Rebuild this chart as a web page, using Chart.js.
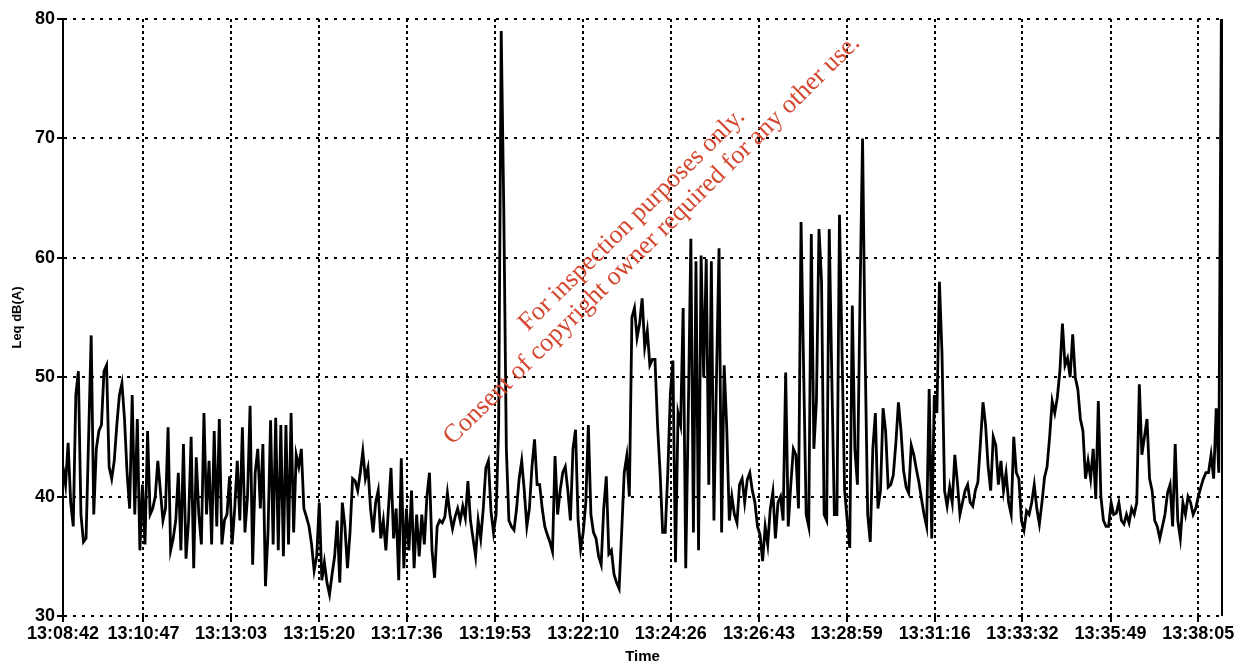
<!DOCTYPE html>
<html>
<head>
<meta charset="utf-8">
<title>Leq dB(A) over time</title>
<script src="https://cdn.jsdelivr.net/npm/chart.js@4.4.1/dist/chart.umd.min.js"></script>
<style>
    html, body { margin: 0; padding: 0; background: #ffffff; }
    #wrap { width: 1237px; height: 666px; }
</style>
</head>
<body>
<div id="wrap"><canvas id="leqChart" width="1237" height="666"></canvas></div>
<script>
"use strict";

// time axis
var START_TIME = '13:08:42';
var SAMPLE_STEP = 3.98;      // seconds between readings
var END_SECONDS = 1800;
var TIME_TICKS = ['13:08:42', '13:10:47', '13:13:03', '13:15:20', '13:17:36', '13:19:53', '13:22:10',
                  '13:24:26', '13:26:43', '13:28:59', '13:31:16', '13:33:32', '13:35:49', '13:38:05'];

// level axis
var Y_MIN = 30;
var Y_MAX = 80;
var Y_STEP = 10;

// Leq readings, dB(A)
var LEQ = [
    42.5, 41, 44.5, 39.5, 37.5, 48.5, 50.5, 38.5, 36.2, 36.5,
    45, 53.5, 38.5, 44, 45.5, 46, 50.5, 51, 42.5, 41.5,
    43, 46, 48.5, 49.5, 46.5, 42, 39, 48.5, 38.5, 46.5,
    35.5, 41, 36, 45.5, 38.5, 39, 40, 43, 40.5, 38,
    39, 45.8, 35.5, 36.5, 38, 42, 35.5, 44.4, 34.8, 38,
    45, 34, 43.3, 38.5, 36, 47, 38.5, 43, 36, 45.5,
    37.5, 46.5, 36, 38, 38.5, 41.7, 36, 39, 43, 38,
    45.8, 37, 40, 47.6, 34.3, 42, 44, 39, 44.4, 32.5,
    37, 46.4, 36, 46.6, 35.5, 46, 35, 46, 36, 47,
    37,
    43.5, 42.5, 44, 39, 38.3, 37.5, 36, 33.8, 35, 39.5,
    33, 34.5, 32.8, 31.8, 33.5, 35, 38, 32.8, 39.5, 37.5,
    34, 37, 41.5, 41.3, 40.5, 42, 43.8, 41.5, 42.4, 39,
    37, 39.5, 40.5, 36.5, 38, 35.5, 39, 42.4, 36.5, 39,
    33, 43.2, 34, 39, 35.5, 40.5, 34, 38.5, 35, 38.5,
    36, 40, 42, 35.5, 33.2, 37.5, 38, 37.8, 38.3, 40.3,
    38.5, 37.3, 38.3, 39, 38, 39.2, 38.2, 41.3, 38, 36.5,
    35, 38, 36.5, 39, 42.4, 43, 38.8, 37, 38.5, 46,
    79, 64, 44, 38, 37.5, 37.2, 39, 41.5, 43, 40.5,
    37.5, 39, 42.5, 44.8, 41, 41, 39, 37.5, 36.8, 36.2,
    35.4, 43.4, 38.5, 40.5, 42, 42.5, 40.5, 38, 44, 45.6,
    38, 35.6, 37, 39.5, 46, 38.5, 37, 36.5, 35, 34.3,
    39, 41.7, 35.2, 35.5, 33.5, 32.8, 32.3, 37, 42, 43.4,
    40, 55, 55.8, 53.3, 54.5, 56.6, 52.5, 53.9, 51, 51.5,
    51.5, 46, 42, 37, 37, 42, 48.6, 51.4, 34.5, 47,
    46, 55.8, 34, 47, 61.6, 37, 59.7, 35.5, 60.2, 50,
    59.9, 41, 59.7, 38, 50, 60.8, 37, 51, 45.8, 38,
    40, 38.5, 37.8, 41, 41.5, 39.5, 41.4, 42, 40.5, 39.5,
    37.5, 36.8, 34.6, 37.5, 36, 39, 40.4, 36.5, 39.5, 40,
    38, 50.4, 37.5, 41, 44, 43.5, 39, 63, 50.7, 38.5,
    37.5, 62, 44, 48, 62.4, 58, 38.5, 38, 62.4, 50,
    38.5, 38.5, 63.6, 52, 40.5, 38, 35.7, 56, 44, 41,
    56.5, 70, 52, 38.5, 36.2, 44, 47, 39, 40.5, 47.4,
    45.5, 40.8, 41, 41.8, 44.5, 47.9, 45.5, 42.2, 40.8, 40.3,
    44.3, 43.5, 42.3, 41.2, 39.8, 38.5, 37.5, 49, 36.5, 48.5,
    47, 58, 52, 40.5, 39.2, 40.8, 39.5, 43.5, 41.2, 38.5,
    39.5, 40.5, 41, 39.5, 39.2, 40.5, 41.2, 44.5, 47.9, 46,
    42.5, 40.5, 45, 44.3, 41, 43, 40.5, 42, 39.5, 38.5,
    45, 42, 41.5, 38, 37.2, 38.8, 38.5, 39.5, 41, 39,
    37.7, 39.5, 41.6, 42.5, 45, 48, 47, 48.3, 50.5, 54.5,
    51, 51.6, 50, 53.6, 50, 49, 46.5, 45.5, 41.5, 43,
    41.5, 44, 39.8, 48, 40, 38, 37.5, 37.5, 39.5, 38.5,
    38.6, 39.5, 38, 37.7, 38.5, 37.8, 39, 38.5, 39.5, 49.4,
    43.5, 45, 46.5, 41.5, 40.5, 38, 37.5, 36.5, 37.5, 38.5,
    40.3, 41, 37.5, 44.4, 38, 36.5, 39.5, 38.5, 40, 39.5,
    38.5, 39, 40, 40.8, 41.5, 42, 42, 43.5, 41.5, 47.4,
    42, 80
];

var WATERMARK = ['For inspection purposes only.',
                 'Consent of copyright owner required for any other use.'];

function toSeconds(t) {
    var p = t.split(':');
    return (+p[0]) * 3600 + (+p[1]) * 60 + (+p[2]);
}

var t0 = toSeconds(START_TIME);
var tickSeconds = TIME_TICKS.map(function (t) { return toSeconds(t) - t0; });
var points = LEQ.map(function (v, i) { return { x: i * SAMPLE_STEP, y: v }; });

var labelFont = { family: '"Liberation Sans", Arial, sans-serif', size: 18, weight: 'bold' };

// solid right edge of the frame
var framePlugin = {
    id: 'frame',
    afterDraw: function (chart) {
        var a = chart.chartArea;
        var ctx = chart.ctx;
        ctx.save();
        ctx.strokeStyle = '#000';
        ctx.lineWidth = 2;
        ctx.beginPath();
        ctx.moveTo(a.right, a.top);
        ctx.lineTo(a.right, a.bottom);
        ctx.stroke();
        ctx.restore();
    }
};

// red stamp across the plot
var stampPlugin = {
    id: 'stamp',
    afterDraw: function (chart) {
        var ctx = chart.ctx;
        var centres = [[632, 220], [652, 240]];
        ctx.save();
        ctx.fillStyle = '#d4472f';
        ctx.font = '26px "Liberation Serif", "Times New Roman", serif';
        ctx.textAlign = 'center';
        ctx.textBaseline = 'middle';
        WATERMARK.forEach(function (line, i) {
            ctx.save();
            ctx.translate(centres[i][0], centres[i][1]);
            ctx.rotate(-44.5 * Math.PI / 180);
            ctx.fillText(line, 0, 0);
            ctx.restore();
        });
        ctx.restore();
    }
};

new Chart(document.getElementById('leqChart'), {
    type: 'line',
    data: {
        datasets: [{
            label: 'Leq dB(A)',
            data: points,
            borderColor: '#000',
            borderWidth: 2.8,
            pointRadius: 0,
            tension: 0,
            fill: false
        }]
    },
    options: {
        responsive: false,
        animation: false,
        layout: { padding: { left: 0, right: 15, top: 19, bottom: 0 } },
        plugins: {
            legend: { display: false },
            tooltip: { enabled: false }
        },
        scales: {
            x: {
                type: 'linear',
                min: 0,
                max: END_SECONDS,
                afterBuildTicks: function (scale) {
                    scale.ticks = tickSeconds.map(function (v) { return { value: v }; });
                },
                afterFit: function (scale) { scale.height = 50; },
                ticks: {
                    autoSkip: false,
                    maxRotation: 0,
                    padding: 1,
                    color: '#000',
                    font: labelFont,
                    callback: function (v) {
                        var i = tickSeconds.indexOf(v);
                        return i >= 0 ? TIME_TICKS[i] : '';
                    }
                },
                grid: {
                    color: '#000',
                    lineWidth: 2,
                    tickLength: 6,
                    tickColor: '#000',
                    tickWidth: 2,
                    tickBorderDash: []
                },
                border: { display: false, dash: [3, 3] },
                title: {
                    display: true,
                    text: 'Time',
                    color: '#000',
                    padding: 0,
                    font: { family: '"Liberation Sans", Arial, sans-serif', size: 15, weight: 'bold' }
                }
            },
            y: {
                min: Y_MIN,
                max: Y_MAX,
                afterFit: function (scale) { scale.width = 63; },
                ticks: {
                    stepSize: Y_STEP,
                    padding: 2,
                    color: '#000',
                    font: labelFont
                },
                grid: {
                    color: '#000',
                    lineWidth: 2,
                    tickLength: 6,
                    tickColor: '#000',
                    tickWidth: 2,
                    tickBorderDash: []
                },
                border: { display: true, color: '#000', width: 2, dash: [3, 6] },
                title: {
                    display: true,
                    text: 'Leq dB(A)',
                    color: '#000',
                    padding: { top: 10, bottom: 0 },
                    font: { family: '"Liberation Sans", Arial, sans-serif', size: 13, weight: 'bold' }
                }
            }
        }
    },
    plugins: [framePlugin, stampPlugin]
});
</script>
</body>
</html>
